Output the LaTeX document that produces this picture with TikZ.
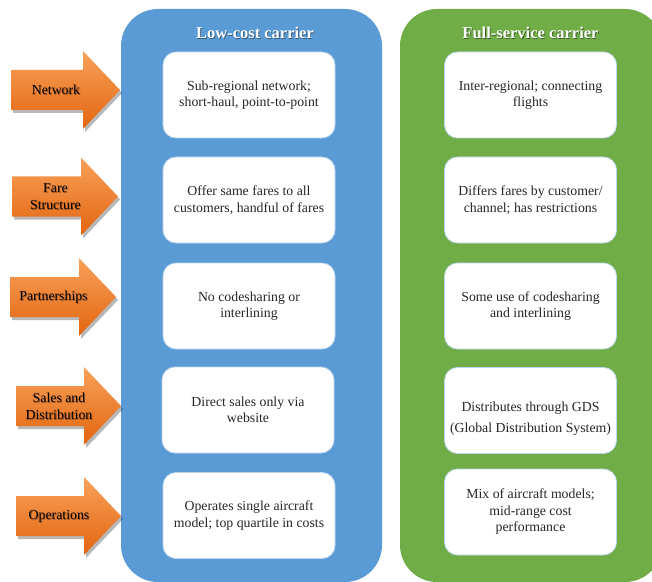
\documentclass[tikz,border=0pt]{standalone}
\usepackage{fontspec}
\setmainfont{Liberation Serif}
\newfontfamily\tnr{Liberation Serif}
\definecolor{lcblue}{HTML}{5B9BD5}
\definecolor{fsgreen}{HTML}{70AD47}
\definecolor{ortop}{HTML}{F9A15A}
\definecolor{orbot}{HTML}{E2650F}
\definecolor{boxline}{HTML}{BDD7EE}
\definecolor{darktext}{HTML}{262626}
\begin{document}
\begin{tikzpicture}[x=1bp,y=-1bp,
  panel/.style={rounded corners=37bp},
  infobox/.style={draw=boxline, line width=0.8bp, fill=white, rounded corners=13bp,
    minimum width=172bp, minimum height=86bp, align=center, inner sep=0pt,
    font=\tnr\fontsize{13.8bp}{16.5bp}\selectfont, text=darktext},
  paneltitle/.style={font=\tnr\fontsize{16.5bp}{19bp}\selectfont\bfseries, text=white},
  titleshadow/.style={font=\tnr\fontsize{16.5bp}{19bp}\selectfont\bfseries, text=black, opacity=0.45},
  arrowbody/.style={top color=ortop, bottom color=orbot, draw=none},
  arrowshadow/.style={fill=black, opacity=0.28},
  arrowlabel/.style={align=center, inner sep=0pt, text=black,
    font=\tnr\fontsize{13.8bp}{17bp}\selectfont},
  labelshadow/.style={arrowlabel, text=black, opacity=0.35}]
\useasboundingbox (0,0) rectangle (652,582);
% panels
\begin{scope}
\clip (0,0) rectangle (652,582);
\fill[lcblue, panel] (121,9) rectangle (382,582);
\fill[fsgreen, panel] (400,9) rectangle (662,582);
\end{scope}
% titles
\node[titleshadow] at (255.8,34.3) {Low-cost carrier};
\node[paneltitle] (lctitle) at (255,33) {Low-cost carrier};
\node[titleshadow] at (531.3,34.3) {Full-service carrier};
\node[paneltitle] (fstitle) at (530.5,33) {Full-service carrier};
% left boxes
\node[infobox] (l1) at (249,95) {Sub-regional network;\\short-haul, point-to-point};
\node[infobox] (l2) at (249,200) {Offer same fares to all\\customers, handful of fares};
\node[infobox] (l3) at (249,306) {No codesharing or\\interlining};
\node[infobox] (l4) at (248,410) {Direct sales only via\\website};
\node[infobox] (l5) at (249,515.5) {Operates single aircraft\\model; top quartile in costs};
% right boxes
\node[infobox] (r1) at (530.5,95) {Inter-regional; connecting\\flights};
\node[infobox] (r2) at (530.5,200) {Differs fares by customer/\\channel; has restrictions};
\node[infobox] (r3) at (530.5,306) {Some use of codesharing\\and interlining};
\node[infobox] (r4) at (530.5,410.5) {\rule{0pt}{26bp}Distributes through GDS\\[5bp](Global Distribution System)};
\node[infobox] (r5) at (530.5,512) {Mix of aircraft models;\\mid-range cost\\performance};
% arrows
\newcommand\orarrow[5]{%
  \fill[arrowshadow] ({#2+2},{#4-20+3}) -- ({#3-37+2},{#4-20+3}) -- ({#3-37+2},{#4-39+3})
    -- ({#3+2},{#4+3}) -- ({#3-37+2},{#4+39+3}) -- ({#3-37+2},{#4+20+3}) -- ({#2+2},{#4+20+3}) -- cycle;
  \path[arrowbody] (#2,{#4-20}) -- ({#3-37},{#4-20}) -- ({#3-37},{#4-39})
    -- (#3,#4) -- ({#3-37},{#4+39}) -- ({#3-37},{#4+20}) -- (#2,{#4+20}) -- cycle;
  \node[labelshadow] at ({(#2+#3-37)/2+9.8},{#4+1}) {#5};
  \node[arrowlabel] (#1) at ({(#2+#3-37)/2+9},#4) {#5};
}
\orarrow{net}{11}{120}{90}{Network}
\orarrow{fare}{12}{118}{196.5}{Fare\\Structure}
\orarrow{part}{10}{116}{297}{Partnerships}
\orarrow{sales}{16}{121}{406}{Sales and\\Distribution}
\orarrow{ops}{16}{121}{516}{Operations}
\end{tikzpicture}
\end{document}
